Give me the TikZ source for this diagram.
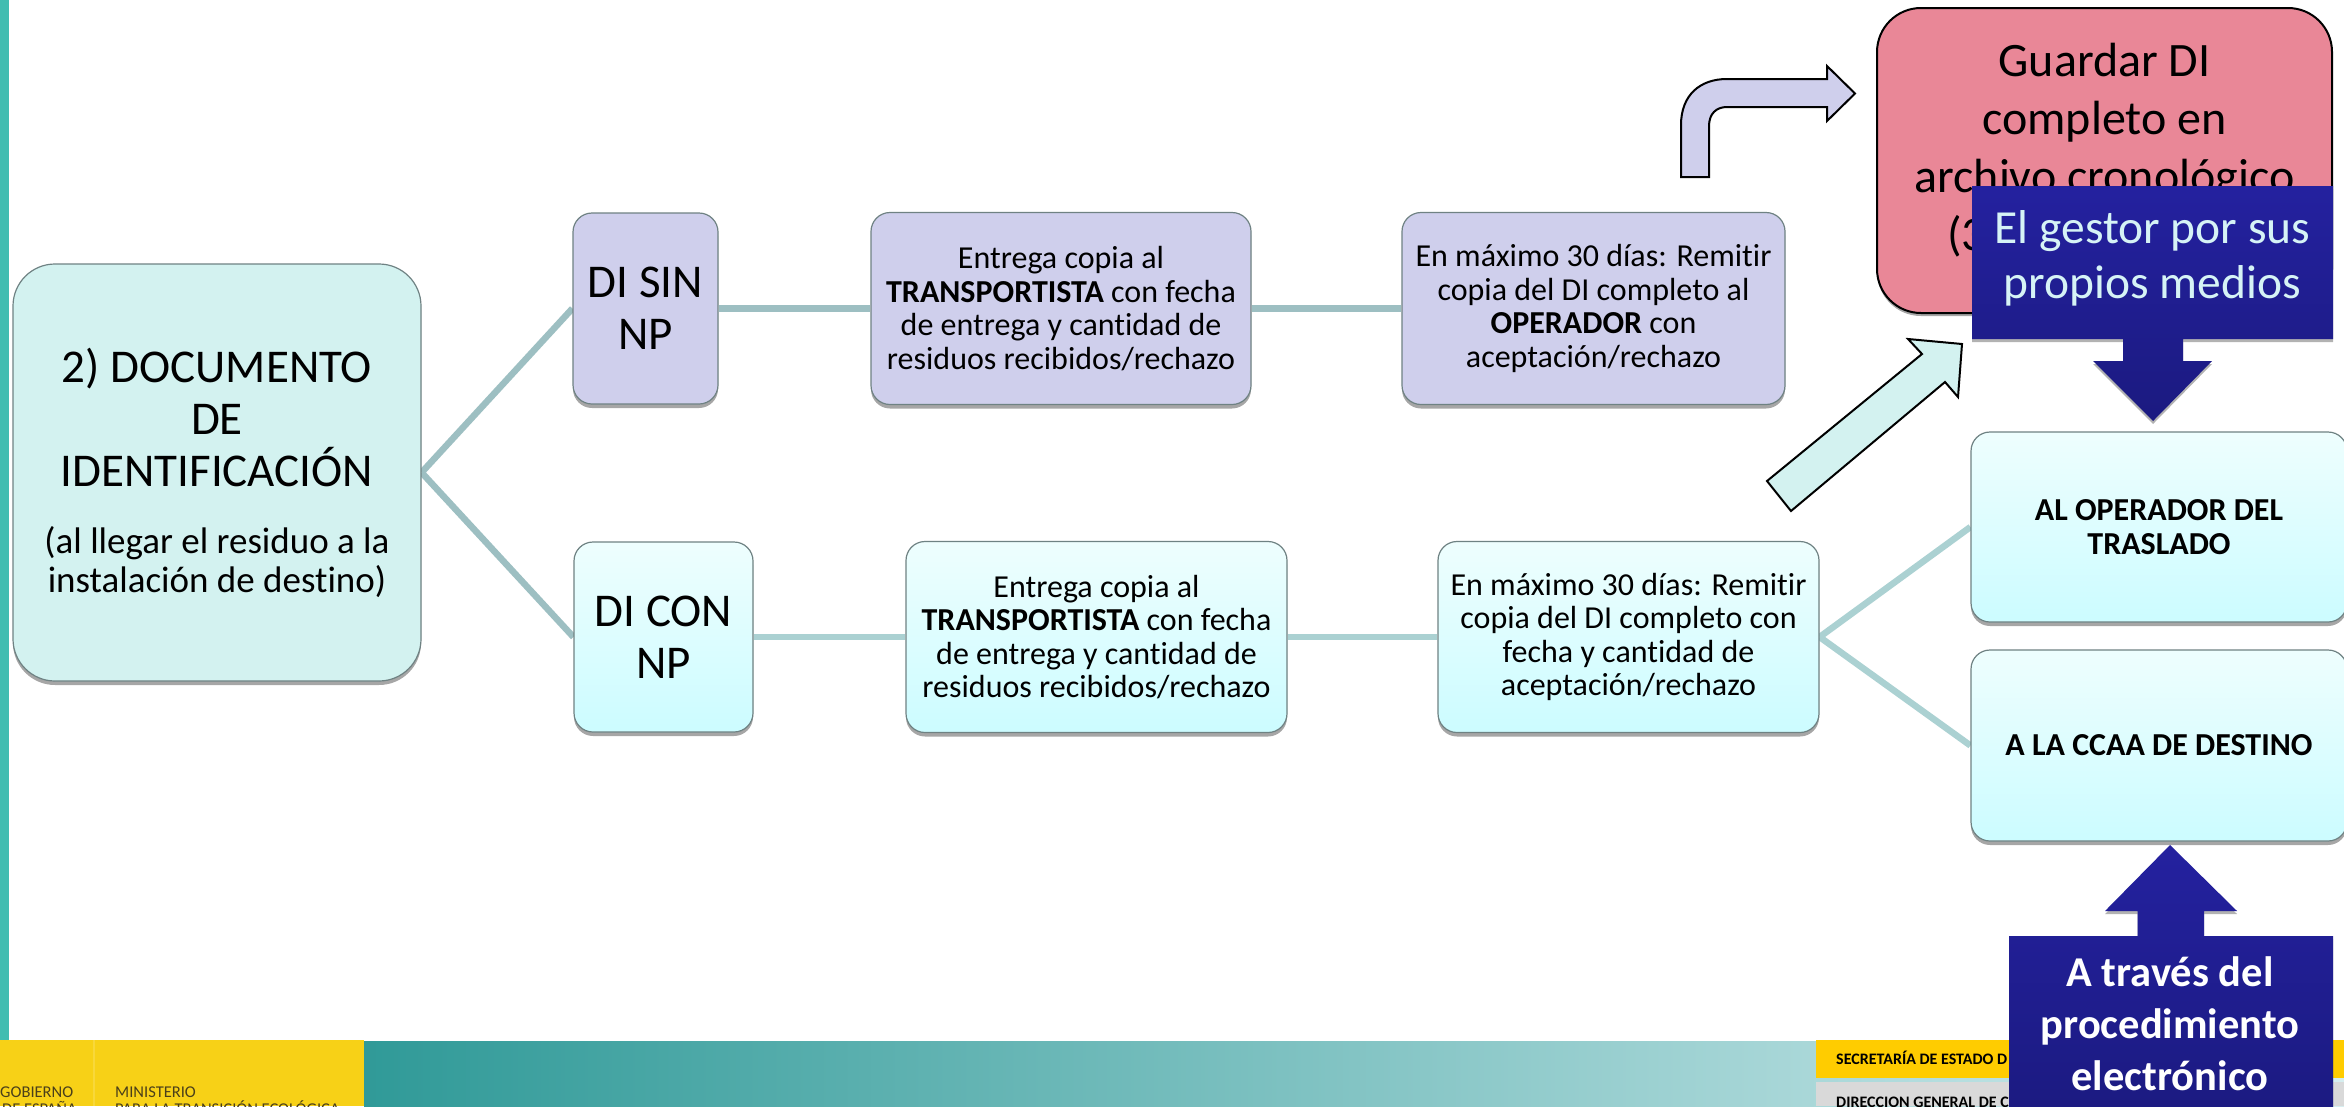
\documentclass[tikz,border=0pt]{standalone}
\usepackage{fontspec}
\setmainfont[Ligatures=NoCommon]{Carlito}
\usetikzlibrary{shadows,backgrounds}
\definecolor{mainfill}{HTML}{D3F2F0}
\definecolor{purplefill}{HTML}{CFCFEC}
\definecolor{cyantop}{HTML}{EEFEFE}
\definecolor{cyanbot}{HTML}{CCFCFF}
\definecolor{pinkfill}{HTML}{E98797}
\definecolor{navytop}{HTML}{24219F}
\definecolor{navybot}{HTML}{1B1A80}
\definecolor{edgegray}{HTML}{6F8283}
\definecolor{linkdark}{HTML}{9DBFC2}
\definecolor{linklight}{HTML}{ABD1D2}
\definecolor{stripcol}{HTML}{41BDB1}
\definecolor{yellowa}{HTML}{F7D117}
\definecolor{yellowb}{HTML}{FFCC00}
\definecolor{grayb}{HTML}{D9D9D9}
\definecolor{paletext}{HTML}{D6F3F6}
\definecolor{logotext}{HTML}{4A3F1A}
\definecolor{bandleft}{HTML}{309A98}
\definecolor{bandright}{HTML}{D6EEF0}
\newcommand{\headfont}{\fontsize{47}{52}\selectfont}
\newcommand{\subfont}{\fontsize{37}{39}\selectfont}
\tikzset{
  boxbase/.style={draw=edgegray,line width=1.2pt,inner sep=0pt,align=center,
    drop shadow={shadow xshift=0pt,shadow yshift=-4pt,fill=black,opacity=.35}},
  mainbox/.style={boxbase,rounded corners=42pt,fill=mainfill,minimum width=408pt,minimum height=417pt},
  purplebox/.style={boxbase,rounded corners=19pt,fill=purplefill},
  cyanbox/.style={boxbase,rounded corners=19pt,top color=cyantop,bottom color=cyanbot},
  smalltext/.style={font=\fontsize{32}{33.5}\selectfont},
  bigtext/.style={font=\headfont},
  capstext/.style={font=\bfseries\fontsize{32}{34}\selectfont},
  logolabel/.style={anchor=base west,inner sep=0pt,text=logotext,font=\fontsize{16.5}{16.5}\selectfont},
  footlabel/.style={anchor=base west,inner sep=0pt,font=\bfseries\fontsize{16}{16}\selectfont},
  linkd/.style={draw=linkdark,line width=6.5pt},
  linkl/.style={draw=linklight,line width=6.5pt},
  outlinearrow/.style={draw=black,line width=2pt,line join=miter},
  navyshape/.style={top color=navytop,bottom color=navybot,draw=none,
    drop shadow={shadow xshift=0pt,shadow yshift=-3pt,fill=black,opacity=.3}}
}
\begin{document}
\begin{tikzpicture}[x=1pt,y=-1pt]
\useasboundingbox (0,0) rectangle (2344,1106);
\clip (0,0) rectangle (2344,1106);
% slide furniture
\fill[stripcol] (0,0) rectangle (9,1040);
\shade[left color=bandleft,right color=bandright] (364,1041) rectangle (2344,1106);
\fill[yellowa] (0,1040) rectangle (364,1106);
\fill[yellowa!85!white] (93,1040) rectangle (95,1106);
\node[logolabel] (gob) at (0,1097) {GOBIERNO};
\node[logolabel] (esp) at (2,1114) {DE ESPAÑA};
\node[logolabel] (min) at (115,1097) {MINISTERIO};
\node[logolabel] (tra) at (115,1114) {PARA LA TRANSICIÓN ECOLÓGICA};
\fill[yellowb] (1816,1040) rectangle (2344,1078);
\fill[grayb] (1816,1082) rectangle (2344,1106);
\node[footlabel] (sec) at (1836,1064) {SECRETARÍA DE ESTADO D};
\node[footlabel] (dir) at (1836,1107) {DIRECCION GENERAL DE C};
% flow boxes
\node[mainbox] (main) at (217,472.5) {};
\node[align=center,inner sep=0pt,font=\headfont] (maintitle) at (217,417) {2) DOCUMENTO\\DE\\IDENTIFICACIÓN};
\node[align=center,inner sep=0pt,font=\subfont] (mainsub) at (217,562) {(al llegar el residuo a la\\instalación de destino)};
\node[purplebox,bigtext,minimum width=145pt,minimum height=191pt] (disin) at (645.5,308.5) {DI SIN\\NP};
\node[cyanbox,bigtext,minimum width=179pt,minimum height=190pt] (dicon) at (663.5,637) {DI CON\\NP};
\node[purplebox,smalltext,minimum width=380pt,minimum height=192pt] (e1) at (1061,308.5) {Entrega copia al\\\textbf{TRANSPORTISTA} con fecha\\de entrega y cantidad de\\residuos recibidos/rechazo};
\node[purplebox,smalltext,minimum width=383pt,minimum height=192pt] (m1) at (1593.5,308.5) {En máximo 30 días: Remitir\\copia del DI completo al\\\textbf{OPERADOR} con\\aceptación/rechazo};
\node[cyanbox,smalltext,minimum width=381pt,minimum height=191pt] (e2) at (1096.5,637) {Entrega copia al\\\textbf{TRANSPORTISTA} con fecha\\de entrega y cantidad de\\residuos recibidos/rechazo};
\node[cyanbox,smalltext,minimum width=381pt,minimum height=191pt] (m2) at (1628.5,637) {En máximo 30 días: Remitir\\copia del DI completo con\\fecha y cantidad de\\aceptación/rechazo};
\node[cyanbox,capstext,minimum width=376pt,minimum height=190pt] (op) at (2159,527) {AL OPERADOR DEL\\TRASLADO};
\node[cyanbox,capstext,minimum width=376pt,minimum height=191pt] (cc) at (2159,745.5) {A LA CCAA DE DESTINO};
\begin{scope}[on background layer]
\fill[white] (0,0) rectangle (2344,1106);
\draw[linkd] (main.east) -- (disin.west);
\draw[linkd] (main.east) -- (dicon.west);
\draw[linkd] (disin.east) -- (e1.west);
\draw[linkd] (e1.east) -- (m1.west);
\draw[linkl] (dicon.east) -- (e2.west);
\draw[linkl] (e2.east) -- (m2.west);
\draw[linkl] (m2.east) -- (op.west);
\draw[linkl] (m2.east) -- (cc.west);
\end{scope}
% pink box
\node[draw=black,line width=2pt,rounded corners=44pt,fill=pinkfill,minimum width=455pt,minimum height=305pt,inner sep=0pt,
  drop shadow={shadow xshift=0pt,shadow yshift=-3pt,fill=black,opacity=.35}] (pink) at (2104.5,160.5) {};
\node[align=center,inner sep=0pt,font=\fontsize{48}{58}\selectfont] (pinktext) at (2104.5,150) {Guardar DI\\completo en\\archivo cronológico\\\makebox[315pt][l]{(3}};
% block arrows
\draw[outlinearrow,fill=purplefill] (1681,177) -- (1681,125) .. controls (1681,95) and (1700,79) .. (1727,79) -- (1827,79) -- (1827,66) -- (1855,93.5) -- (1827,121) -- (1827,107) -- (1727,107) .. controls (1716,107) and (1709,114) .. (1709,126) -- (1709,177) -- cycle;
\draw[outlinearrow,fill=mainfill] (1767,481) -- (1922,354) -- (1908,339) -- (1962,344) -- (1958,397) -- (1945,382) -- (1791,511) -- cycle;
% callouts
\path[navyshape] (1972,186) -- (2333,186) -- (2333,339) -- (2183,339) -- (2183,361) -- (2212,361) -- (2153,421) -- (2093,361) -- (2123,361) -- (2123,339) -- (1972,339) -- cycle;
\node[align=center,inner sep=0pt,text=paletext,font=\fontsize{47.5}{55}\selectfont] (gestor) at (2152.5,258) {El gestor por sus\\propios medios};
\path[navyshape] (2170,845) -- (2237,911) -- (2204,911) -- (2204,936) -- (2333,936) -- (2333,1120) -- (2009,1120) -- (2009,936) -- (2137.5,936) -- (2137.5,911) -- (2105,911) -- cycle;
\node[align=center,inner sep=0pt,text=white,font=\bfseries\fontsize{42.5}{52}\selectfont] (proc) at (2170,1024) {A través del\\procedimiento\\electrónico};
\end{tikzpicture}
\end{document}
